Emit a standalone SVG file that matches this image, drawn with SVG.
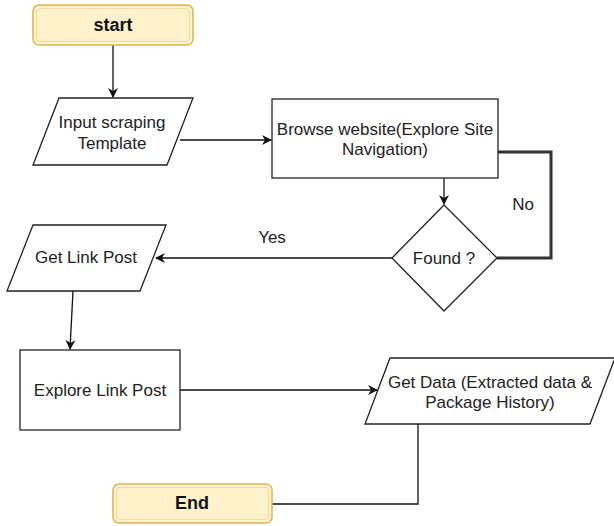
<svg xmlns="http://www.w3.org/2000/svg" width="614" height="526" viewBox="0 0 614 526">
<style>
text{font-family:"Liberation Sans",Arial,sans-serif;font-size:17px;fill:#222;text-anchor:middle;dominant-baseline:central}
.b{font-weight:bold;font-size:18px;fill:#111}
.shape{fill:#fff;stroke:#222;stroke-width:1.3}
.term{fill:#fff2cc;stroke:#d6b656;stroke-width:1.5}
.termin{fill:none;stroke:#f0dc9a;stroke-width:1.2}
.c{fill:none;stroke:#111;stroke-width:1.3}
.thick{fill:none;stroke:#333;stroke-width:3}
</style>
<defs>
<marker id="arr" viewBox="0 0 10 10" refX="9" refY="5" markerWidth="10" markerHeight="10" markerUnits="userSpaceOnUse" orient="auto">
<path d="M0,0 L10,5 L0,10 L3,5 z" fill="#111"/>
</marker>
</defs>
<g id="connectors">
<path class="c" d="M113,45 V97" marker-end="url(#arr)"/>
<path class="c" d="M180,140 H271" marker-end="url(#arr)"/>
<path class="c" d="M444,178 V204" marker-end="url(#arr)"/>
<path class="thick" d="M498,152 H551 V258 H497"/>
<path class="c" d="M392,258 H156" marker-end="url(#arr)"/>
<path class="c" d="M73,291 L70,349" marker-end="url(#arr)"/>
<path class="c" d="M180,390 H377" marker-end="url(#arr)"/>
<path class="c" d="M418,424 V504 H272"/>
<text x="272" y="237">Yes</text>
<text x="523" y="204">No</text>
</g>
<g id="start">
<rect class="term" x="33" y="5" width="160" height="40" rx="6"/>
<rect class="termin" x="36.5" y="8.5" width="153" height="33" rx="4"/>
<text class="b" x="113" y="25">start</text>
</g>
<g id="input">
<polygon class="shape" points="59,98 193,98 167,165 33,165"/>
<text x="112" y="122">Input scraping</text>
<text x="112" y="143">Template</text>
</g>
<g id="browse">
<rect class="shape" x="272" y="99" width="226" height="79"/>
<text x="385" y="129">Browse website(Explore Site</text>
<text x="385" y="149">Navigation)</text>
</g>
<g id="found">
<polygon class="shape" points="444,205 497,258 444,311 392,258"/>
<text x="444" y="258">Found ?</text>
</g>
<g id="getlink">
<polygon class="shape" points="33,225 166,225 140,291 7,291"/>
<text x="86" y="257">Get Link Post</text>
</g>
<g id="explore">
<rect class="shape" x="20" y="350" width="160" height="80"/>
<text x="100" y="390">Explore Link Post</text>
</g>
<g id="getdata">
<polygon class="shape" points="390,358 615,358 590,424 365,424"/>
<text x="490" y="382">Get Data (Extracted data &amp;</text>
<text x="490" y="402">Package History)</text>
</g>
<g id="end">
<rect class="term" x="113" y="484" width="159" height="39" rx="6"/>
<rect class="termin" x="116.5" y="487.5" width="152" height="32" rx="4"/>
<text class="b" x="192" y="503">End</text>
</g>
</svg>
